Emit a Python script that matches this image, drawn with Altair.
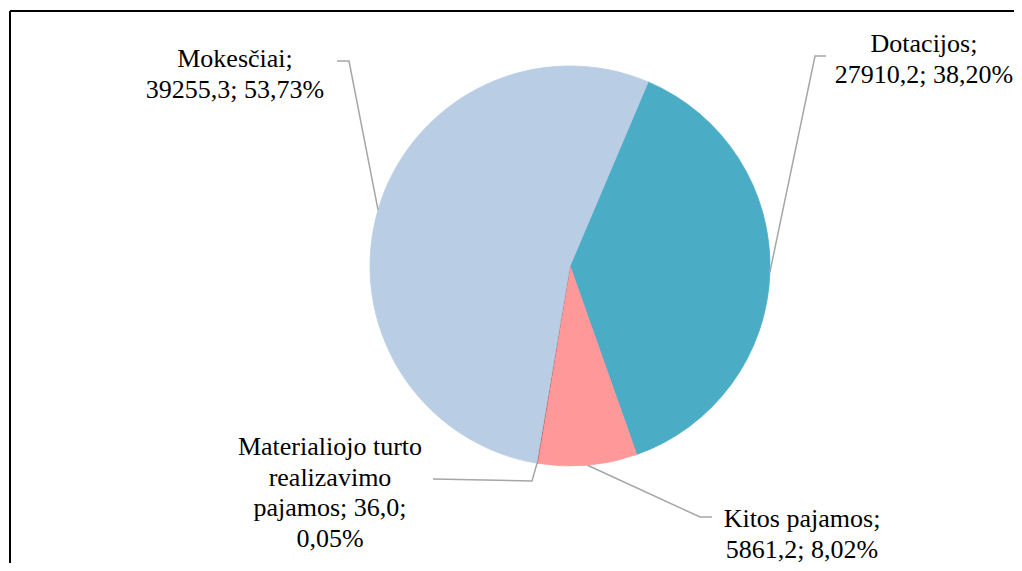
import math
import altair as alt
import pandas as pd

# ---- data ----
categories = ["Dotacijos", "Kitos pajamos", "Materialiojo turto realizavimo pajamos", "Mokesčiai"]
values = [27910.2, 5861.2, 36.0, 39255.3]
label_lines = [
    ["Dotacijos;", "27910,2; 38,20%"],
    ["Kitos pajamos;", "5861,2; 8,02%"],
    ["Materialiojo turto", "realizavimo", "pajamos; 36,0;", "0,05%"],
    ["Mokesčiai;", "39255,3; 53,73%"],
]
colors = ["#4BACC6", "#FF9999", "#C0504D", "#B9CDE5"]

# ---- layout (page pixels) ----
OX, OY = 10, 11                    # view origin on the page
W, H = 1004, 552
CX, CY, R = 570 - OX, 266 - OY, 200
START_DEG = 23.0
LINE_H = 30.5
label_pos = [(924, 31), (802, 506), (330, 434), (235, 46)]          # centre x, top y
elbows = [[(826, 56), (815, 56)], [(712, 517), (700, 517)],
          [(433, 479), (532, 481)], [(337, 61), (349, 61)]]

total = sum(values)
df = pd.DataFrame({"category": categories, "value": values, "idx": list(range(len(values)))})

# leader lines: label end -> elbow -> slice edge at its mid angle
rows = []
cum = 0.0
for i, (cat, v) in enumerate(zip(categories, values)):
    mid = math.radians(START_DEG) + 2 * math.pi * (cum + v / 2) / total
    cum += v
    ex = CX + R * math.sin(mid)
    ey = CY - R * math.cos(mid)
    pts = [(p[0] - OX, p[1] - OY) for p in elbows[i]] + [(ex, ey)]
    for k, (px, py) in enumerate(pts):
        rows.append({"category": cat, "pt": k, "px": px, "py": py})
lines_df = pd.DataFrame(rows)

trows = []
for i, cat in enumerate(categories):
    for j, line in enumerate(label_lines[i]):
        trows.append({"category": cat, "line": line,
                      "tx": label_pos[i][0] - OX,
                      "ty": label_pos[i][1] - OY + j * LINE_H})
text_df = pd.DataFrame(trows)

start = math.radians(START_DEG)
pie = alt.Chart(df).mark_arc(radius=R, strokeWidth=0.8).encode(
    theta=alt.Theta("value:Q", stack=True, scale=alt.Scale(range=[start, start + 2 * math.pi])),
    color=alt.Color("category:N", scale=alt.Scale(domain=categories, range=colors), legend=None),
    stroke=alt.Color("category:N", scale=alt.Scale(domain=categories, range=colors), legend=None),
    order=alt.Order("idx:Q"),
    x=alt.value(CX),
    y=alt.value(CY),
)

leaders = alt.Chart(lines_df).mark_line(color="#A6A6A6", strokeWidth=1.5).encode(
    x=alt.X("px:Q", scale=None, axis=None),
    y=alt.Y("py:Q", scale=None, axis=None),
    detail="category:N",
    order="pt:Q",
)

labels = alt.Chart(text_df).mark_text(
    font="Liberation Serif", fontSize=26, align="center", baseline="top", color="#000000",
).encode(
    x=alt.X("tx:Q", scale=None, axis=None),
    y=alt.Y("ty:Q", scale=None, axis=None),
    text="line:N",
)

frame_df = pd.DataFrame({"a": [0]})
left_border = alt.Chart(frame_df).mark_rule(color="black", strokeWidth=2).encode(
    x=alt.value(0), y=alt.value(0), y2=alt.value(H + 10))
top_border = alt.Chart(frame_df).mark_rule(color="black", strokeWidth=2).encode(
    x=alt.value(0), x2=alt.value(W + 10), y=alt.value(0))

chart = alt.layer(pie, leaders, labels, left_border, top_border).properties(
    width=W, height=H,
    autosize=alt.AutoSizeParams(type="none"),
    padding={"left": 2, "top": 3, "right": 0, "bottom": 0},
    background="white",
).configure_view(stroke=None)

chart.save("out.html", embed_options={"renderer": "svg", "actions": False})
